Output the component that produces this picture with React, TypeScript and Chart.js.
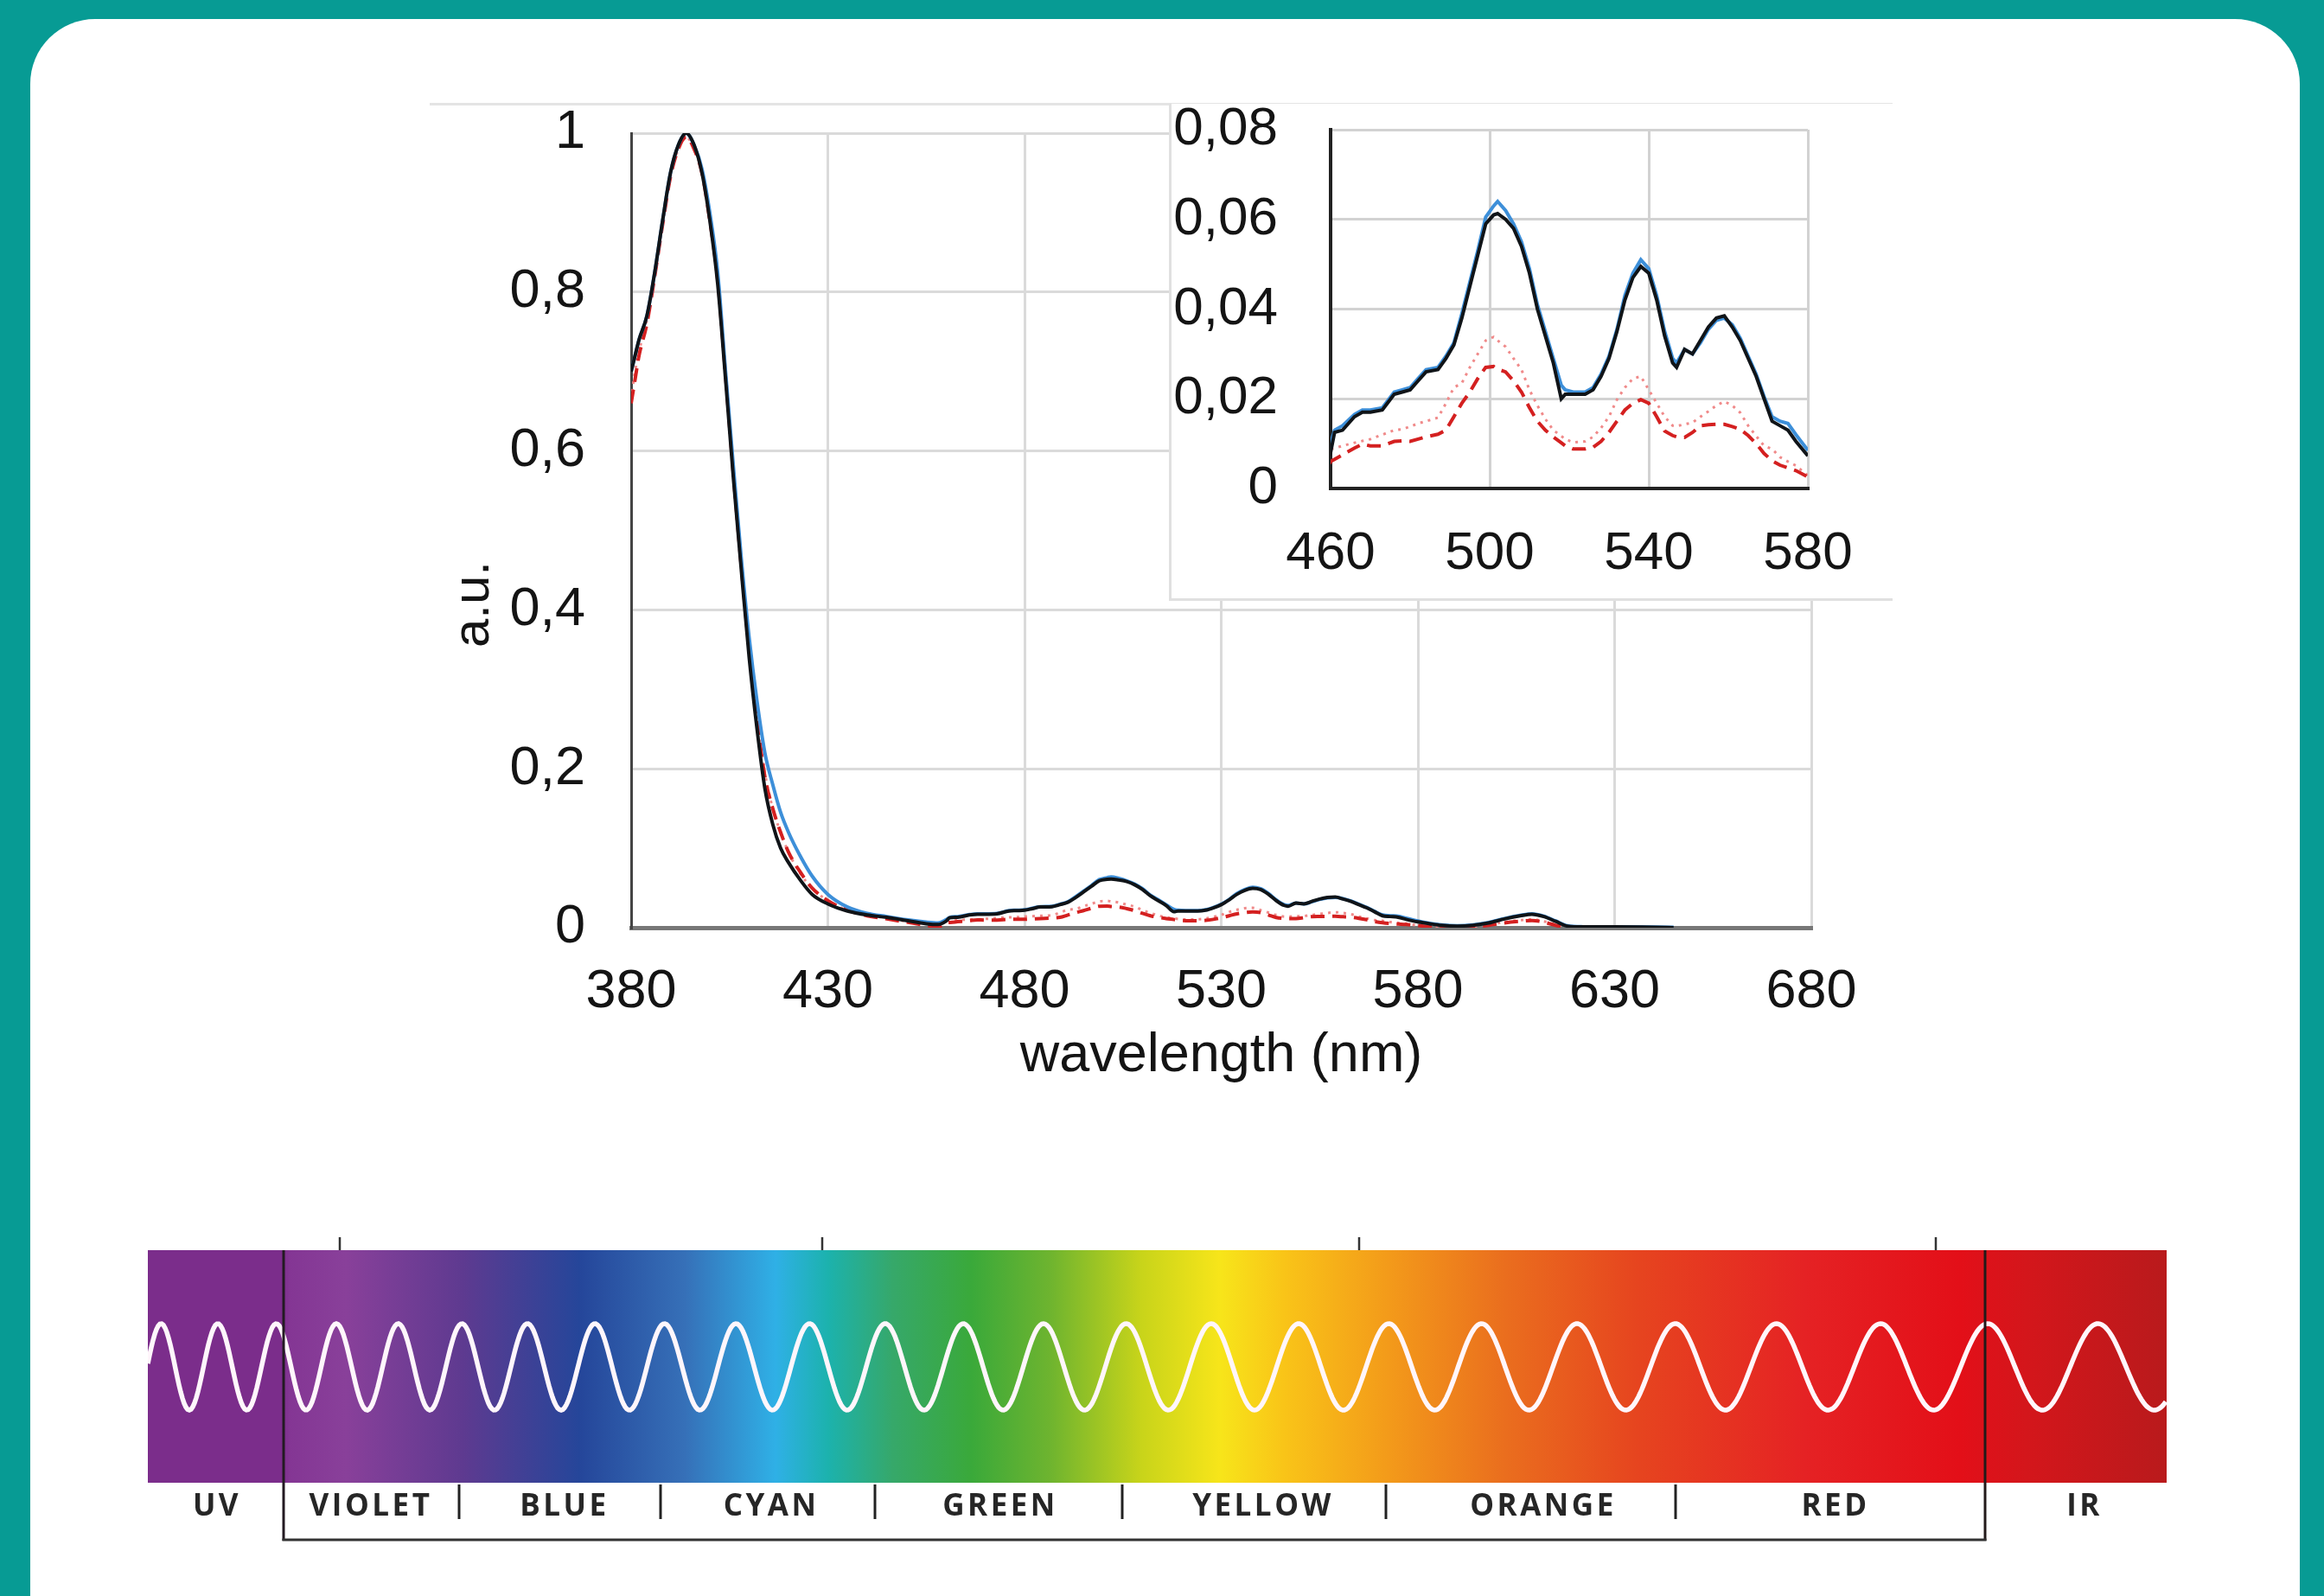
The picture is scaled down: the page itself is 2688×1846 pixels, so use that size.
import React, { useEffect, useRef } from "react";
import { Chart, registerables } from "chart.js";
Chart.register(...registerables);

// ---------- DATA ----------
const wavelengths = [
  380, 381, 382, 384, 386, 388, 390, 392, 394, 396,
  398, 400, 402, 404, 406, 408, 410, 412, 414, 416,
  418, 420, 423, 426, 430, 435, 440, 445, 450, 455,
  458, 460, 461, 463, 466, 468, 470, 473, 476, 478,
  480, 482, 484, 487, 489, 491, 493, 495, 497, 499,
  501, 502, 504, 506, 508, 510, 512, 514, 516, 518,
  519, 521, 524, 526, 528, 530, 532, 534, 536, 538,
  540, 542, 544, 546, 547, 549, 551, 553, 555, 557,
  559, 561, 563, 565, 567, 569, 571, 573, 575, 577,
  580, 583, 586, 590, 594, 598, 602, 606, 609, 612,
  615, 618, 622, 630, 640, 645,
];

const seriesBlack = [
  0.70, 0.72, 0.74, 0.77, 0.825, 0.89, 0.95, 0.985, 1.0, 0.985,
  0.95, 0.89, 0.81, 0.69, 0.565, 0.45, 0.34, 0.25, 0.175, 0.13,
  0.10, 0.082, 0.06, 0.042, 0.03, 0.021, 0.016, 0.013, 0.009, 0.005,
  0.004, 0.008, 0.0125, 0.013, 0.016, 0.017, 0.017, 0.0175, 0.021, 0.0215,
  0.022, 0.024, 0.026, 0.0265, 0.029, 0.032, 0.038, 0.045, 0.052, 0.059,
  0.061, 0.0613, 0.060, 0.058, 0.054, 0.048, 0.040, 0.034, 0.028, 0.020,
  0.021, 0.021, 0.021, 0.022, 0.025, 0.029, 0.035, 0.042, 0.047, 0.0495,
  0.048, 0.042, 0.034, 0.028, 0.027, 0.031, 0.030, 0.033, 0.036, 0.038,
  0.0385, 0.036, 0.033, 0.029, 0.025, 0.020, 0.015, 0.014, 0.013, 0.0105,
  0.0073, 0.005, 0.003, 0.002, 0.003, 0.006, 0.011, 0.015, 0.017, 0.014,
  0.008, 0.002, 0.001, 0.001, 0.0005, 0,
];

const seriesBlue = [
  0.70, 0.72, 0.74, 0.77, 0.825, 0.89, 0.95, 0.985, 1.0, 0.985,
  0.955, 0.90, 0.825, 0.70, 0.58, 0.465, 0.365, 0.285, 0.22, 0.18,
  0.145, 0.12, 0.09, 0.065, 0.042, 0.026, 0.018, 0.014, 0.010, 0.007,
  0.006, 0.010, 0.013, 0.014, 0.0165, 0.0175, 0.0175, 0.018, 0.0215, 0.022,
  0.0225, 0.0245, 0.0265, 0.027, 0.0295, 0.0325, 0.039, 0.046, 0.053, 0.0605,
  0.063, 0.064, 0.062, 0.059, 0.055, 0.049, 0.041, 0.035, 0.029, 0.023,
  0.022, 0.0215, 0.0215, 0.0225, 0.0255, 0.0295, 0.0355, 0.043, 0.048, 0.051,
  0.049, 0.043, 0.035, 0.029, 0.028, 0.031, 0.030, 0.0325, 0.0355, 0.0375,
  0.038, 0.0365, 0.0335, 0.0295, 0.0255, 0.0205, 0.016, 0.015, 0.0145, 0.012,
  0.0085, 0.0055, 0.0035, 0.0025, 0.0035, 0.0065, 0.0115, 0.0155, 0.0175, 0.0145,
  0.0085, 0.0025, 0.0012, 0.001, 0.0008, 0.0005,
];

const seriesRedDashed = [
  0.66, 0.69, 0.72, 0.76, 0.82, 0.885, 0.945, 0.98, 0.995, 0.98,
  0.95, 0.89, 0.815, 0.695, 0.57, 0.455, 0.35, 0.262, 0.19, 0.15,
  0.12, 0.095, 0.07, 0.05, 0.034, 0.022, 0.015, 0.011, 0.007, 0.003,
  0.001, 0.006, 0.0065, 0.0075, 0.009, 0.0099, 0.0095, 0.0095, 0.0105, 0.0106,
  0.0105, 0.011, 0.0115, 0.0121, 0.013, 0.016, 0.019, 0.0215, 0.0245, 0.027,
  0.0272, 0.0266, 0.026, 0.024, 0.0215, 0.018, 0.015, 0.013, 0.0115, 0.0102,
  0.0095, 0.0088, 0.0088, 0.0092, 0.0105, 0.0125, 0.015, 0.0175, 0.019, 0.0198,
  0.019, 0.016, 0.0128, 0.0118, 0.0115, 0.0114, 0.0125, 0.014, 0.0142, 0.0143,
  0.0143, 0.0138, 0.0132, 0.0118, 0.010, 0.0078, 0.0062, 0.0052, 0.0046, 0.004,
  0.0026, 0.0015, 0.0008, 0.0005, 0.001, 0.003, 0.006, 0.008, 0.009, 0.007,
  0.003, 0.0005, null, null, null, null,
];

const seriesRedDotted = [
  0.665, 0.70, 0.725, 0.765, 0.82, 0.885, 0.945, 0.98, 0.995, 0.98,
  0.95, 0.89, 0.815, 0.695, 0.57, 0.46, 0.355, 0.265, 0.195, 0.15,
  0.12, 0.095, 0.068, 0.05, 0.034, 0.022, 0.016, 0.012, 0.008, 0.005,
  0.004, 0.0088, 0.009, 0.0095, 0.0102, 0.0106, 0.011, 0.012, 0.013, 0.0132,
  0.0138, 0.0145, 0.015, 0.0158, 0.019, 0.0225, 0.0235, 0.027, 0.030, 0.033,
  0.0338, 0.033, 0.0316, 0.029, 0.0265, 0.022, 0.0185, 0.0155, 0.013, 0.0117,
  0.011, 0.0103, 0.0105, 0.0115, 0.0135, 0.016, 0.0198, 0.0225, 0.0245, 0.025,
  0.022, 0.019, 0.016, 0.014, 0.0139, 0.0143, 0.0147, 0.016, 0.0172, 0.0185,
  0.0194, 0.0185, 0.0169, 0.014, 0.0117, 0.0095, 0.0088, 0.007, 0.006, 0.0051,
  0.0029, 0.002, 0.001, 0.0008, 0.0015, 0.004, 0.007, 0.0095, 0.0105, 0.008,
  0.004, 0.001, null, null, null, null,
];

const mainXTicks = [380, 430, 480, 530, 580, 630, 680];
const mainYTicks = [0, 0.2, 0.4, 0.6, 0.8, 1];
const mainYLabels = ["0", "0,2", "0,4", "0,6", "0,8", "1"];
const insetXTicks = [460, 500, 540, 580];
const insetYTicks = [0, 0.02, 0.04, 0.06, 0.08];
const insetYLabels = ["0", "0,02", "0,04", "0,06", "0,08"];

const xTitle = "wavelength (nm)";
const yTitle = "a.u.";

const bandLabels = ["UV", "VIOLET", "BLUE", "CYAN", "GREEN", "YELLOW", "ORANGE", "RED", "IR"];

// ---------- STYLE / LAYOUT ----------
const FONT = "'Liberation Sans', Arial, sans-serif";
const bandCenters = [249, 427, 651, 890, 1155, 1459, 1783, 2121, 2409];
const bandSeparators = [531, 764, 1012, 1298, 1603, 1938];
const topTicks = [393, 951, 1572, 2239];
const spectrumStops: [number, string][] = [
  [0, "#7b2d8b"], [0.066, "#7b2d8b"], [0.07, "#843694"], [0.098, "#89409a"],
  [0.156, "#5e3a90"], [0.214, "#25469a"], [0.266, "#3670b8"], [0.311, "#2fb0e6"],
  [0.337, "#1cb2ad"], [0.369, "#36a86a"], [0.408, "#3aa93a"], [0.447, "#6eb42f"],
  [0.492, "#c8d41a"], [0.531, "#f7e51a"], [0.563, "#f9c418"], [0.615, "#f39a1a"],
  [0.672, "#ea6e1e"], [0.737, "#e6451f"], [0.821, "#e52224"], [0.898, "#e30f18"],
  [0.911, "#dc121a"], [0.93, "#d4161b"], [1, "#b91a1c"],
];

function buildDatasets(smooth: boolean) {
  const pts = (arr: (number | null)[]) => wavelengths.map((x, i) => ({ x, y: arr[i] }));
  return [
    { label: "A", data: pts(seriesBlack), borderColor: "#101418", borderWidth: 4 },
    { label: "B", data: pts(seriesBlue), borderColor: "#3d8fd9", borderWidth: 4 },
    { label: "C", data: pts(seriesRedDashed), borderColor: "#d42020", borderWidth: 4, borderDash: [16, 9] },
    { label: "D", data: pts(seriesRedDotted), borderColor: "#f08a8a", borderWidth: 3, borderDash: [3, 6] },
  ].map((d) =>
    smooth
      ? { ...d, pointRadius: 0, fill: false, spanGaps: false, cubicInterpolationMode: "monotone" as const }
      : { ...d, pointRadius: 0, fill: false, spanGaps: false, tension: 0 }
  );
}

function makeConfig(opts: {
  xMin: number; xMax: number; yMin: number; yMax: number;
  xTicks: number[]; yTicks: number[]; yLabels: string[];
  padding: any; yWidth: number; xHeight: number; yPad: number; xPad: number;
  fontSize: number; gridColor: string; leftBorder: string; bottomBorder: string;
  leftBorderW: number; bottomBorderW: number; xTitle?: string; smooth: boolean;
}): any {
  return {
    type: "line",
    data: { datasets: buildDatasets(opts.smooth) },
    options: {
      responsive: false,
      animation: false,
      devicePixelRatio: 1,
      layout: { padding: opts.padding },
      plugins: { legend: { display: false }, tooltip: { enabled: false } },
      scales: {
        x: {
          type: "linear",
          min: opts.xMin,
          max: opts.xMax,
          afterBuildTicks: (s: any) => { s.ticks = opts.xTicks.map((v) => ({ value: v })); },
          afterFit: (s: any) => { s.height = opts.xHeight; },
          grid: { color: opts.gridColor, lineWidth: 3, drawTicks: false },
          border: { display: true, color: opts.bottomBorder, width: opts.bottomBorderW },
          ticks: {
            padding: opts.xPad,
            color: "#141414",
            font: { family: FONT, size: opts.fontSize },
            maxRotation: 0,
            autoSkip: false,
            callback: (v: any) => String(v),
          },
          title: opts.xTitle
            ? { display: true, text: opts.xTitle, color: "#141414", font: { family: FONT, size: 63 }, padding: { top: 0, bottom: 41 } }
            : { display: false },
        },
        y: {
          type: "linear",
          min: opts.yMin,
          max: opts.yMax,
          afterBuildTicks: (s: any) => { s.ticks = opts.yTicks.map((v) => ({ value: v })); },
          afterFit: (s: any) => { s.width = opts.yWidth; },
          grid: { color: opts.gridColor, lineWidth: 3, drawTicks: false },
          border: { display: true, color: opts.leftBorder, width: opts.leftBorderW },
          ticks: {
            padding: opts.yPad,
            color: "#141414",
            font: { family: FONT, size: opts.fontSize },
            autoSkip: false,
            callback: (v: any) => {
              const i = opts.yTicks.indexOf(v);
              return i >= 0 ? opts.yLabels[i] : "";
            },
          },
        },
      },
    },
  };
}

function ChartCanvas({ config, left, top, width, height }: any) {
  const ref = useRef<HTMLCanvasElement | null>(null);
  useEffect(() => {
    if (!ref.current) return;
    const chart = new Chart(ref.current, config);
    return () => chart.destroy();
  }, []);
  return (
    <canvas
      ref={ref}
      width={width}
      height={height}
      style={{ position: "absolute", left, top, width, height }}
    />
  );
}

function wavePath(): string {
  const a = 59.3, b = 0.0289, xRef = 2299;
  const pts: string[] = [];
  for (let x = 171; x <= 2506; x += 2) {
    const ph = ((2 * Math.PI) / b) * Math.log((a + b * x) / (a + b * xRef));
    const y = 1581 - 50 * Math.cos(ph);
    pts.push(`${x},${y.toFixed(1)}`);
  }
  return "M" + pts.join(" L");
}

function Spectrum() {
  return (
    <svg
      width={2688}
      height={1846}
      style={{ position: "absolute", left: 0, top: 0, pointerEvents: "none" }}
    >
      <defs>
        <linearGradient id="spec" x1="0" y1="0" x2="1" y2="0">
          {spectrumStops.map(([o, c], i) => (
            <stop key={i} offset={o} stopColor={c} />
          ))}
        </linearGradient>
        <clipPath id="barclip">
          <rect x={171} y={1446} width={2335} height={269} />
        </clipPath>
      </defs>
      <rect x={171} y={1446} width={2335} height={269} fill="url(#spec)" />
      <path d={wavePath()} fill="none" stroke="#fff6fb" strokeWidth={5.5} clipPath="url(#barclip)" />
      {topTicks.map((x, i) => (
        <line key={i} x1={x} x2={x} y1={1431} y2={1446} stroke="#333" strokeWidth={2.5} />
      ))}
      <line x1={328} x2={328} y1={1446} y2={1782} stroke="#231a22" strokeWidth={3} />
      <line x1={2296} x2={2296} y1={1446} y2={1782} stroke="#231a1a" strokeWidth={3} />
      <line x1={326.5} x2={2297.5} y1={1781} y2={1781} stroke="#333" strokeWidth={3} />
      {bandSeparators.map((x, i) => (
        <line key={i} x1={x} x2={x} y1={1717} y2={1757} stroke="#222" strokeWidth={3} />
      ))}
      {bandLabels.map((t, i) => (
        <text
          key={t}
          x={bandCenters[i] + 2}
          y={1739}
          textAnchor="middle"
          dominantBaseline="central"
          fontFamily="'Open Sans', 'DejaVu Sans', sans-serif"
          fontWeight={700}
          fontSize={35}
          letterSpacing={3.5}
          fill="#262626"
        >
          {t}
        </text>
      ))}
    </svg>
  );
}

export default function App() {
  // Main plot area target: x 730..2095, y 154..1073
  const mainConfig = makeConfig({
    xMin: 380, xMax: 680, yMin: 0, yMax: 1,
    xTicks: mainXTicks, yTicks: mainYTicks, yLabels: mainYLabels,
    padding: { left: 0, top: 92, right: 92, bottom: 0 },
    yWidth: 250, xHeight: 227, yPad: 53, xPad: 37, fontSize: 63,
    gridColor: "#dadada", leftBorder: "#444444", bottomBorder: "#777777",
    leftBorderW: 3, bottomBorderW: 5, xTitle, smooth: true,
  });
  // Inset plot area target: x 1539..2091, y 150..565
  const insetConfig = makeConfig({
    xMin: 460, xMax: 580, yMin: 0, yMax: 0.08,
    xTicks: insetXTicks, yTicks: insetYTicks, yLabels: insetYLabels,
    padding: { left: 0, top: 101, right: 92, bottom: 0 },
    yWidth: 187, xHeight: 127, yPad: 61, xPad: 39, fontSize: 62,
    gridColor: "#d2d2d2", leftBorder: "#222222", bottomBorder: "#222222",
    leftBorderW: 4, bottomBorderW: 4, smooth: false,
  });

  return (
    <div
      style={{
        position: "fixed", left: 0, top: 0, width: 2688, height: 1846,
        overflow: "hidden", background: "#079b94",
      }}
    >
      <div
        style={{
          position: "absolute", left: 35, top: 22, width: 2625, height: 1900,
          borderRadius: 75, background: "#ffffff",
        }}
      />
      <div style={{ position: "absolute", left: 497, top: 119, width: 1692, height: 3, background: "#e4e4e4" }} />
      <ChartCanvas config={mainConfig} left={480} top={62} width={1707} height={1238} />
      <div
        style={{
          position: "absolute", left: 1352, top: 120, width: 837, height: 575,
          background: "#ffffff", borderLeft: "3px solid #e0e0e0", borderBottom: "3px solid #e0e0e0",
          boxSizing: "border-box",
        }}
      />
      <ChartCanvas config={insetConfig} left={1352} top={49} width={831} height={643} />
      <div
        style={{
          position: "absolute", left: 545 - 100, top: 699 - 40, width: 200, height: 80,
          display: "flex", alignItems: "center", justifyContent: "center",
          transform: "rotate(-90deg)", fontFamily: FONT, fontSize: 60, color: "#141414",
          lineHeight: "80px",
        }}
      >
        {yTitle}
      </div>
      <Spectrum />
    </div>
  );
}
